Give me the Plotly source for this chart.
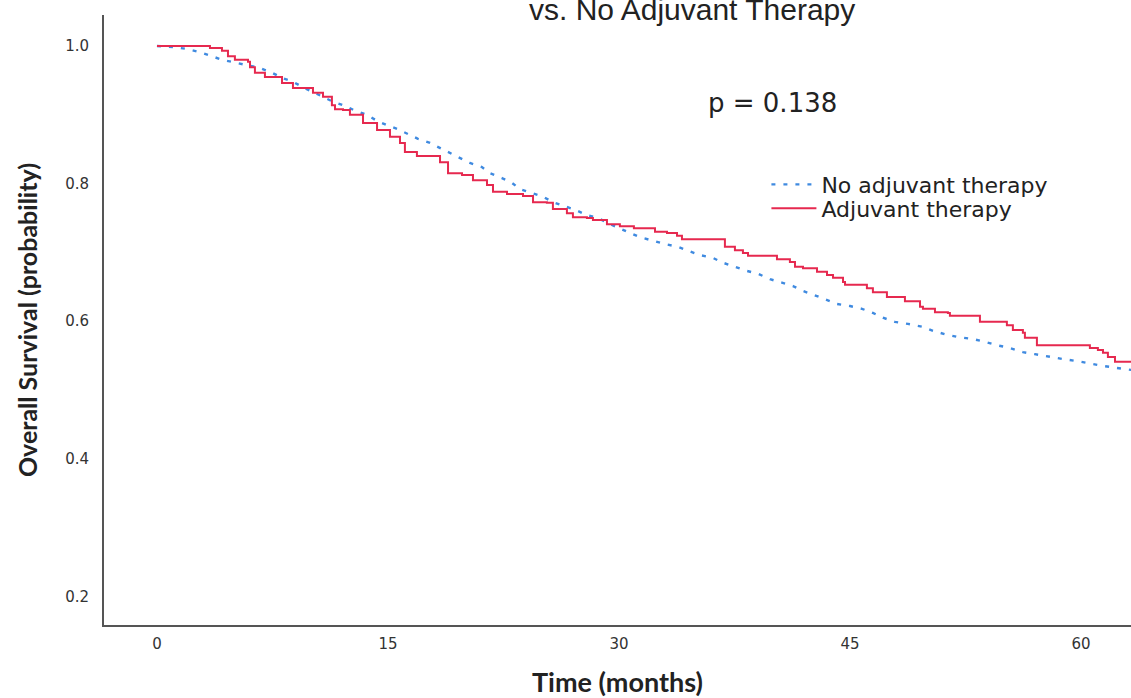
import plotly.graph_objects as go

# Kaplan-Meier estimates (months, survival probability)
adj_time = [0, 3.44, 4.22, 4.61, 5.06, 5.91, 6.04, 6.36, 7.01, 8.12, 8.83, 10.13, 10.78, 11.36,
            11.56, 12.08, 12.53, 13.38, 14.29, 15.13, 15.78, 16.10, 16.88, 18.38, 18.90, 19.81,
            20.52, 21.43, 21.82, 22.73, 23.77, 24.42, 25.32, 25.71, 26.62, 27.01, 27.92, 28.31,
            29.22, 30.06, 30.97, 32.34, 33.12, 33.77, 34.09, 36.88, 37.53, 38.05, 38.38, 40.26,
            41.10, 41.43, 41.95, 42.86, 43.51, 43.90, 44.55, 44.68, 46.10, 46.49, 47.40, 48.57,
            49.55, 49.74, 50.52, 51.36, 51.49, 53.44, 55.19, 55.58, 56.23, 56.36, 57.14, 60.58,
            61.10, 61.43, 61.75, 62.21, 63.3]
adj_surv = [1.000, 0.997, 0.993, 0.985, 0.980, 0.977, 0.969, 0.961, 0.955, 0.946, 0.939, 0.932,
            0.926, 0.914, 0.908, 0.907, 0.900, 0.888, 0.878, 0.868, 0.859, 0.846, 0.840, 0.831,
            0.815, 0.8125, 0.805, 0.798, 0.788, 0.785, 0.782, 0.773, 0.772, 0.763, 0.757, 0.751,
            0.750, 0.747, 0.741, 0.738, 0.735, 0.730, 0.728, 0.724, 0.719, 0.708, 0.703, 0.699,
            0.695, 0.690, 0.686, 0.679, 0.677, 0.672, 0.667, 0.663, 0.657, 0.653, 0.648, 0.642,
            0.635, 0.629, 0.621, 0.618, 0.613, 0.612, 0.608, 0.599, 0.594, 0.587, 0.583, 0.576,
            0.565, 0.561, 0.558, 0.554, 0.548, 0.541, 0.541]

noadj_time = [0, 1.04, 1.95, 2.79, 3.57, 4.22, 6.69, 7.47, 8.18, 8.83, 9.48, 10.13, 10.78, 11.43,
              12.21, 12.86, 13.64, 14.29, 14.94, 15.65, 16.30, 16.95, 17.73, 18.38, 19.03, 19.68,
              20.32, 21.10, 21.62, 22.40, 23.05, 23.57, 24.35, 25.06, 25.71, 26.49, 27.14, 27.92,
              28.64, 29.42, 30.06, 30.71, 31.36, 32.21, 32.99, 33.83, 34.61, 35.26, 36.10, 36.75,
              37.53, 38.31, 39.03, 39.81, 40.58, 41.30, 41.95, 42.73, 43.38, 44.16, 45.00, 45.78,
              46.49, 47.14, 47.92, 48.77, 49.68, 50.39, 51.17, 52.01, 52.99, 53.77, 54.55, 55.39,
              56.23, 57.01, 57.99, 58.83, 59.74, 60.58, 61.43, 62.34, 63.3]
noadj_surv = [1.000, 0.9985, 0.9956, 0.991, 0.985, 0.980, 0.968, 0.961, 0.953, 0.948, 0.940,
              0.933, 0.926, 0.919, 0.913, 0.906, 0.900, 0.891, 0.885, 0.879, 0.872, 0.865, 0.859,
              0.852, 0.844, 0.837, 0.830, 0.824, 0.815, 0.808, 0.801, 0.792, 0.786, 0.781, 0.773,
              0.767, 0.762, 0.754, 0.750, 0.741, 0.735, 0.728, 0.722, 0.717, 0.712, 0.708, 0.701,
              0.696, 0.692, 0.685, 0.679, 0.673, 0.669, 0.661, 0.656, 0.651, 0.644, 0.638, 0.632,
              0.625, 0.622, 0.618, 0.612, 0.605, 0.599, 0.596, 0.592, 0.586, 0.581, 0.577, 0.574,
              0.570, 0.565, 0.561, 0.555, 0.552, 0.548, 0.545, 0.542, 0.538, 0.535, 0.532, 0.529]

x_ticks = [0, 15, 30, 45, 60]
y_ticks = [0.2, 0.4, 0.6, 0.8, 1.0]
y_tick_text = ["0.2", "0.4", "0.6", "0.8", "1.0"]

title_text = "vs. No Adjuvant Therapy"
p_text = "p = 0.138"

BLUE = "#3f8ae0"
RED = "#e6294f"
TXT = "#222222"

fig = go.Figure()
fig.add_trace(go.Scatter(
    x=noadj_time, y=noadj_surv, mode="lines", name="No adjuvant therapy", legend="legend",
    line=dict(color=BLUE, width=2.4, dash="4px,8px", shape="linear"),
))
fig.add_trace(go.Scatter(
    x=adj_time, y=adj_surv, mode="lines", name="Adjuvant therapy", legend="legend2",
    line=dict(color=RED, width=2, shape="hv"),
))

fig.add_annotation(x=40, y=0.917, xref="x", yref="y", text=p_text, showarrow=False,
                   font=dict(family="DejaVu Sans", size=26, color=TXT))
fig.add_annotation(x=0.573, y=1.0, xref="paper", yref="paper", text=title_text,
                   showarrow=False, yanchor="bottom", xanchor="center", yshift=-13,
                   font=dict(family="Liberation Sans", size=30, color=TXT))

legend_common = dict(xanchor="left", yanchor="middle", bgcolor="rgba(0,0,0,0)",
                     font=dict(family="DejaVu Sans", size=22, color=TXT), itemwidth=45)

fig.update_layout(
    width=1131, height=698,
    margin=dict(l=104, r=0, t=15, b=73),
    paper_bgcolor="white", plot_bgcolor="white",
    showlegend=True,
    legend=dict(x=0.645, y=0.722, **legend_common),
    legend2=dict(x=0.645, y=0.683, **legend_common),
    xaxis=dict(range=[-3.44, 63.25], tickvals=x_ticks, showgrid=False, zeroline=False,
               showline=True, linecolor="#555555", linewidth=2, ticks="",
               tickfont=dict(family="DejaVu Sans", size=15, color="#333333"), ticklabelstandoff=4,
               title=dict(text="<b>Time (months)</b>", standoff=21,
                          font=dict(family="Lato", size=27, color=TXT))),
    yaxis=dict(range=[0.1584, 1.045], tickvals=y_ticks, ticktext=y_tick_text, showgrid=False,
               zeroline=False, showline=True, linecolor="#555555", linewidth=2, ticks="",
               tickfont=dict(family="DejaVu Sans", size=15, color="#333333"), ticklabelstandoff=10,
               title=dict(text="<b>Overall Survival (probability)</b>", standoff=20,
                          font=dict(family="Lato", size=25, color=TXT))),
)

fig.write_html(
    "out.html",
    config={"displayModeBar": False},
    post_script="document.body.style.margin='0';document.body.style.overflow='hidden';",
)
